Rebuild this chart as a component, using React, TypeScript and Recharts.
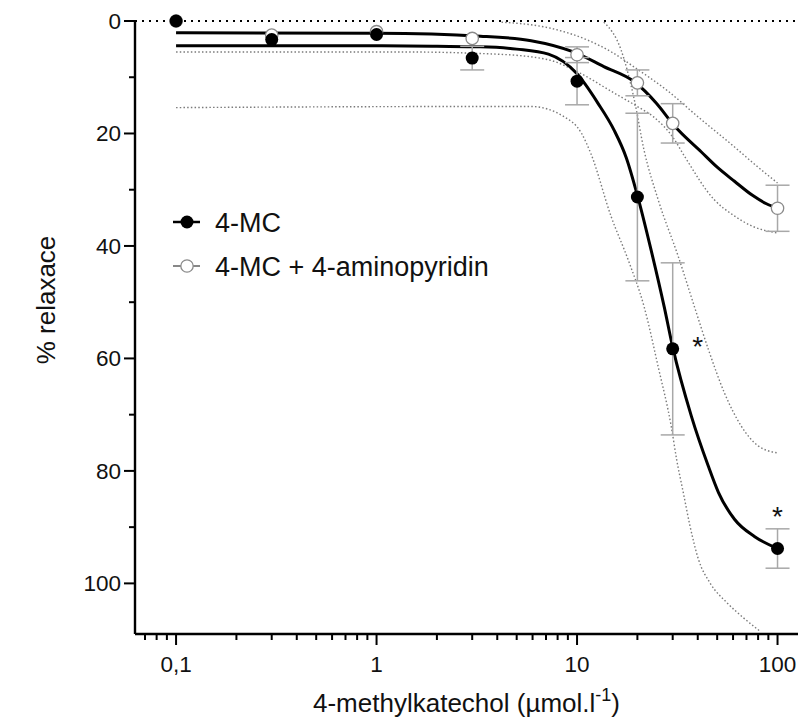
import { ComposedChart, Line, Scatter, XAxis, YAxis, ErrorBar, ReferenceLine, Legend } from 'recharts'

const FONT = '"Liberation Sans", Arial, Helvetica, sans-serif'

// measured points (dose in µmol/l, % relaxation, SEM)
const doses = [0.1, 0.3, 1, 3, 10, 20, 30, 100]
const mcMean = [0, 3.3, 2.4, 6.6, 10.7, 31.3, 58.3, 93.8]
const mcSem = [0, 0, 0, 2.1, 4.2, 14.9, 15.3, 3.5]
const apMean = [0, 2.5, 1.9, 3.1, 6.0, 11.0, 18.2, 33.3]
const apSem = [0, 0, 0, 0, 1.4, 2.3, 3.5, 4.1]

// fitted curves
const mcFitX = [0.1, 1, 2, 3.3, 5, 7.2, 10, 12.7, 15.3, 17.6, 20, 23.4, 27.2, 30, 37.2, 45, 50.7, 61, 77, 100]
const mcFitY = [4.4, 4.4, 4.5, 4.6, 5.0, 5.9, 9.4, 14.6, 19.4, 24.3, 31.0, 40.7, 50.8, 58.0, 70.3, 79, 83.8, 88.6, 91.7, 93.8]
const apFitX = [0.1, 1, 3.3, 5.9, 9.6, 13.6, 19.3, 25, 30.5, 41.7, 50, 61, 75, 88, 100]
const apFitY = [2.1, 2.2, 2.7, 3.5, 5.5, 8.1, 10.8, 14.7, 18.6, 23.3, 26, 28.5, 31, 32.5, 33.3]

// 95% confidence bands (dotted)
const mcHiX = [13.6, 16.6, 19.3, 21.6, 25.4, 32, 38.5, 45.2, 54.3, 66.1, 80.4, 100]
const mcHiY = [0.2, 5.2, 14, 23, 31.8, 41.9, 50.8, 58.4, 66.1, 72.1, 75.6, 76.8]
const mcLoX = [0.1, 3.3, 5.9, 8.6, 10.5, 11.7, 14.8, 18, 21.6, 25.4, 29.5, 31.4, 33.9, 36.6, 40.3, 46, 55.8, 67.5, 81.8]
const mcLoY = [15.4, 15.2, 15.2, 17, 19.9, 23.5, 34.8, 42.5, 50.8, 61.5, 72.1, 78, 83.9, 89.8, 95.7, 99.9, 103.4, 106.1, 108.5]
const apHiX = [4.2, 7.4, 11.3, 15, 19.3, 28.5, 40, 61, 80, 100]
const apHiY = [0.2, 1.3, 3.4, 5.6, 8.2, 12.5, 17, 22.4, 26, 28.8]
const apLoX = [0.1, 1.3, 4, 7.2, 10, 15.3, 20.2, 24, 30.5, 34.3, 48.4, 60, 75, 100]
const apLoY = [5.5, 5.5, 5.9, 6.9, 9, 12.8, 15.3, 17, 21, 24, 31.8, 34.5, 36.5, 37.7]

// significance marks
const starX = [40, 100]
const starY = [56.7, 86.9]

// axes
const xTicks = [0.07, 0.08, 0.09, 0.1, 0.2, 0.3, 0.4, 0.5, 0.6, 0.7, 0.8, 0.9, 1, 2, 3, 4, 5, 6, 7, 8, 9, 10, 20, 30, 40, 50, 60, 70, 80, 90, 100]
const xMajor = [0.1, 1, 10, 100]
const xLabels = ['0,1', '1', '10', '100']
const yTicks = [0, 10, 20, 30, 40, 50, 60, 70, 80, 90, 100]
const yMajor = [0, 20, 40, 60, 80, 100]

const pair = (xs: number[], ys: number[]) => xs.map((x, i) => ({ x, y: ys[i] }))
const mcPoints = doses.map((x, i) => ({ x, y: mcMean[i], err: mcSem[i] }))
const apPoints = doses.map((x, i) => ({ x, y: apMean[i], err: apSem[i] }))
const stars = pair(starX, starY)

const XTick = (props: any) => {
  const { x, y, payload } = props
  const idx = xMajor.indexOf(payload.value)
  const major = idx >= 0
  return (
    <g>
      <line x1={x} x2={x} y1={y} y2={y + (major ? 11 : 6)} stroke="#000" strokeWidth={2} />
      {major && (
        <text x={x} y={y + 38} textAnchor="middle" fontSize={22.5} fontFamily={FONT} fill="#111">
          {xLabels[idx]}
        </text>
      )}
    </g>
  )
}

const YTick = (props: any) => {
  const { x, y, payload } = props
  const major = yMajor.includes(payload.value)
  return (
    <g>
      <line x1={x} x2={x - (major ? 11 : 6)} y1={y} y2={y} stroke="#000" strokeWidth={2} />
      {major && (
        <text x={x - 14} y={y + 8} textAnchor="end" fontSize={22.5} fontFamily={FONT} fill="#111">
          {payload.value}
        </text>
      )}
    </g>
  )
}

const XTitle = (props: any) => {
  const { viewBox } = props
  const cx = viewBox.x + viewBox.width / 2
  return (
    <text x={cx} y={712} textAnchor="middle" fontSize={26} fontFamily={FONT} fill="#111">
      4-methylkatechol (µmol.l
      <tspan dy={-11} fontSize={18}>-1</tspan>
      <tspan dy={11}>)</tspan>
    </text>
  )
}

const YTitle = () => (
  <text x={55} y={300} transform="rotate(-90 55 300)" textAnchor="middle" fontSize={26} fontFamily={FONT} fill="#111">
    % relaxace
  </text>
)

const FilledDot = (props: any) => <circle cx={props.cx} cy={props.cy} r={6.5} fill="#000" />
const OpenDot = (props: any) => (
  <circle cx={props.cx} cy={props.cy} r={6.2} fill="#fff" stroke="#8a8a8a" strokeWidth={1.3} />
)
const Star = (props: any) => (
  <text x={props.cx} y={props.cy + 16} textAnchor="middle" fontSize={28} fontFamily={FONT} fill="#111">
    *
  </text>
)

const LegendBox = () => (
  <svg width={380} height={100} style={{ display: 'block' }}>
    <line x1={8} x2={35} y1={27} y2={27} stroke="#000" strokeWidth={2.5} />
    <circle cx={22} cy={27} r={6.5} fill="#000" />
    <text x={50} y={36.5} fontSize={27} fontFamily={FONT} fill="#111">4-MC</text>
    <line x1={8} x2={35} y1={71} y2={71} stroke="#888" strokeWidth={2} />
    <circle cx={22} cy={71} r={6.2} fill="#fff" stroke="#8a8a8a" strokeWidth={1.3} />
    <text x={50} y={80.5} fontSize={27} fontFamily={FONT} fill="#111">4-MC + 4-aminopyridin</text>
  </svg>
)

const band = { stroke: '#7a7a7a', strokeWidth: 1.4, strokeDasharray: '1.5 2.2', dot: false, activeDot: false, isAnimationActive: false, type: 'monotone' as const }
const fit = { stroke: '#000', strokeWidth: 3, dot: false, activeDot: false, isAnimationActive: false, type: 'monotone' as const }

export default function App() {
  return (
    <div style={{ position: 'absolute', left: 0, top: 0, background: '#fff' }}>
      <ComposedChart width={798} height={719} margin={{ top: 21, right: 0, left: 0, bottom: 0 }}>
        <XAxis
          type="number"
          dataKey="x"
          scale="log"
          domain={[0.0624, 126.5]}
          ticks={xTicks}
          interval={0}
          tick={<XTick />}
          tickLine={false}
          tickSize={0}
          tickMargin={0}
          axisLine={{ stroke: '#000', strokeWidth: 2.4 }}
          height={85}
          label={<XTitle />}
        />
        <YAxis
          type="number"
          dataKey="y"
          reversed
          domain={[0, 109]}
          ticks={yTicks}
          interval={0}
          tick={<YTick />}
          tickLine={false}
          tickSize={0}
          tickMargin={0}
          axisLine={{ stroke: '#000', strokeWidth: 2.4 }}
          width={135}
          label={<YTitle />}
        />
        <ReferenceLine y={0} stroke="#000" strokeWidth={2} strokeDasharray="2 5" />
        <Line data={pair(mcHiX, mcHiY)} dataKey="y" {...band} />
        <Line data={pair(mcLoX, mcLoY)} dataKey="y" {...band} />
        <Line data={pair(apHiX, apHiY)} dataKey="y" {...band} />
        <Line data={pair(apLoX, apLoY)} dataKey="y" {...band} />
        <Line data={pair(apFitX, apFitY)} dataKey="y" {...fit} />
        <Line data={pair(mcFitX, mcFitY)} dataKey="y" {...fit} />
        <Scatter data={apPoints} dataKey="y" shape={<OpenDot />} isAnimationActive={false}>
          <ErrorBar dataKey="err" direction="y" width={12} stroke="#a8a8a8" strokeWidth={1.5} />
        </Scatter>
        <Scatter data={mcPoints} dataKey="y" shape={<FilledDot />} isAnimationActive={false}>
          <ErrorBar dataKey="err" direction="y" width={12} stroke="#a8a8a8" strokeWidth={1.5} />
        </Scatter>
        <Scatter data={stars} dataKey="y" shape={<Star />} isAnimationActive={false} />
        <Legend
          layout="vertical"
          align="center"
          verticalAlign="middle"
          content={<LegendBox />}
          wrapperStyle={{ left: 165, top: 195, width: 380 }}
        />
      </ComposedChart>
    </div>
  )
}
